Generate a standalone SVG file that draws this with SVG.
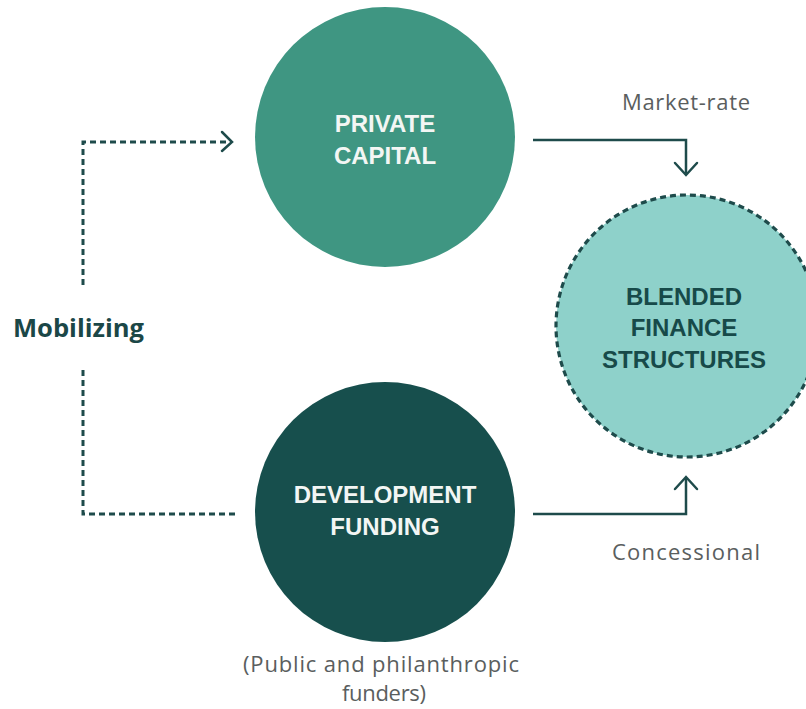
<svg xmlns="http://www.w3.org/2000/svg" width="806" height="709" viewBox="0 0 806 709">
  <style>
    .node-title { font-family: "Liberation Sans", Arial, sans-serif; font-weight: bold; font-size: 24px; text-anchor: middle; }
    .light { fill: #f3f6f4; }
    .dark { fill: #174a49; }
    .label { font-family: "Open Sans", "Liberation Sans", sans-serif; font-size: 22px; fill: #5a5e5e; text-anchor: middle; }
    .mob { font-family: "Open Sans", "Liberation Sans", sans-serif; font-weight: bold; font-size: 25px; fill: #1b4747; }
    .dash { fill: none; stroke: #1e4b4b; stroke-width: 3; stroke-dasharray: 6 4; }
    .solid { fill: none; stroke: #1e4b4b; stroke-width: 2.5; }
    .head { fill: none; stroke: #1e4b4b; stroke-width: 2.5; stroke-linecap: round; stroke-linejoin: miter; }
  </style>
  <rect width="806" height="709" fill="#ffffff"/>

  <g id="connectors">
    <path class="dash" d="M83,285 V142 H230"/>
    <polyline class="head" points="222,132 232,142 222,151"/>
    <path class="dash" d="M83,370 V514 H236"/>
    <path class="solid" d="M533,140 H686 V173"/>
    <polyline class="head" points="675,163 686,175 697,163"/>
    <path class="solid" d="M533,514 H686 V479"/>
    <polyline class="head" points="675,489 686,477 697,489"/>
  </g>

  <g id="private-capital">
    <circle cx="385" cy="137" r="130" fill="#3f9682"/>
    <text class="node-title light" x="385" y="132">PRIVATE</text>
    <text class="node-title light" x="385" y="164">CAPITAL</text>
  </g>

  <g id="development-funding">
    <circle cx="385" cy="512" r="130" fill="#174f4d"/>
    <text class="node-title light" x="385" y="503" font-size="25">DEVELOPMENT</text>
    <text class="node-title light" x="385" y="535" font-size="25">FUNDING</text>
  </g>

  <g id="blended-finance">
    <circle cx="687" cy="326" r="131" fill="#8ed1ca" stroke="#1e4b4b" stroke-width="3.2" stroke-dasharray="6 4"/>
    <text class="node-title dark" x="684" y="305" font-size="25">BLENDED</text>
    <text class="node-title dark" x="684" y="336" font-size="25">FINANCE</text>
    <text class="node-title dark" x="684" y="368" font-size="25">STRUCTURES</text>
  </g>

  <g id="labels">
    <text class="mob" x="13" y="337" textLength="131" lengthAdjust="spacingAndGlyphs">Mobilizing</text>
    <text class="label" x="686" y="110" textLength="128">Market-rate</text>
    <text class="label" x="686" y="560" textLength="148">Concessional</text>
    <text class="label" x="381" y="672" font-size="20" textLength="276">(Public and philanthropic</text>
    <text class="label" x="384" y="701" font-size="20" textLength="84">funders)</text>
  </g>
</svg>
